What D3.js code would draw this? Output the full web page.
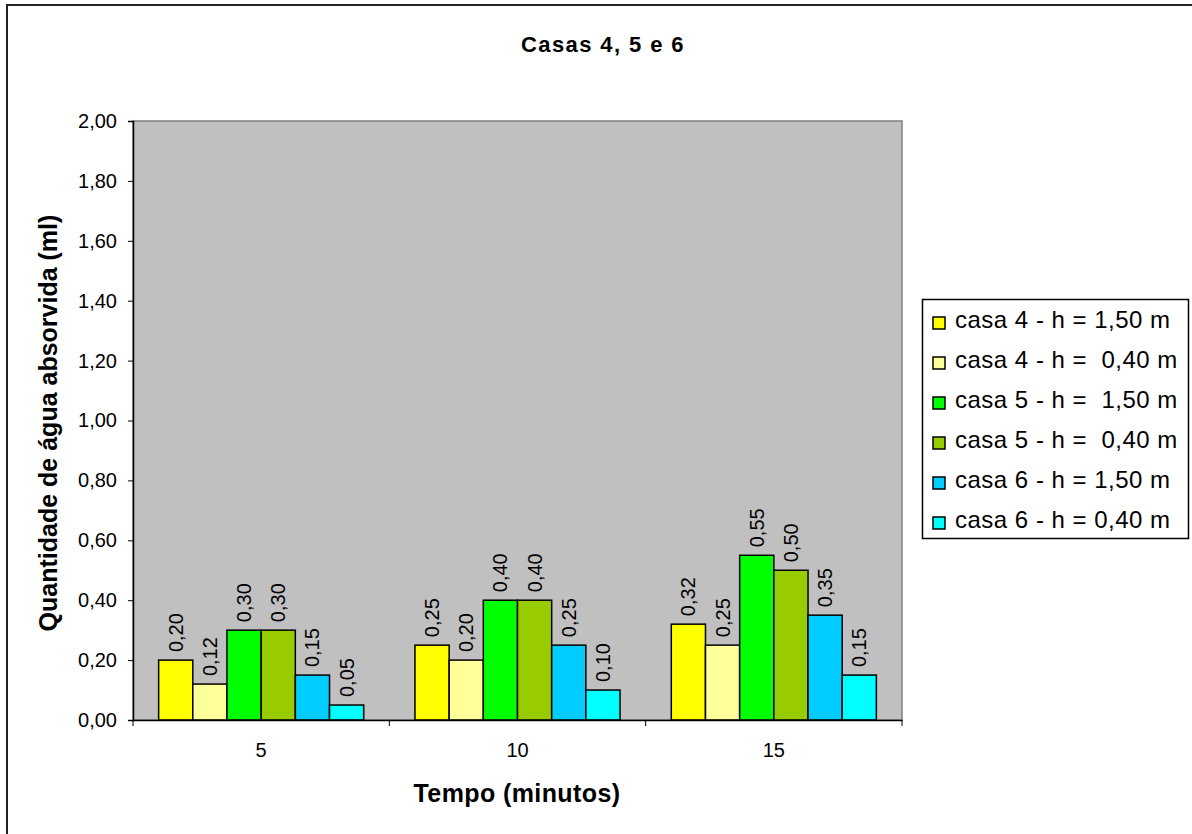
<!DOCTYPE html>
<html>
<head>
<meta charset="utf-8">
<script src="https://cdn.jsdelivr.net/npm/d3@7/dist/d3.min.js"></script>
<style>
  body { margin: 0; background: #fff; }
  text { font-family: "Liberation Sans", Arial, sans-serif; fill: #000; }
</style>
</head>
<body>
<script>
// data
var categories = ["5", "10", "15"];
var seriesNames = [
    "casa 4 - h = 1,50 m",
    "casa 4 - h =\u00a0 0,40 m",
    "casa 5 - h =\u00a0 1,50 m",
    "casa 5 - h =\u00a0 0,40 m",
    "casa 6 - h = 1,50 m",
    "casa 6 - h = 0,40 m"
];
var seriesColors = ["#FFFF00", "#FFFF99", "#00FF00", "#99CC00", "#00CCFF", "#00FFFF"];
var casa4_150 = [0.20, 0.25, 0.32];
var casa4_040 = [0.12, 0.20, 0.25];
var casa5_150 = [0.30, 0.40, 0.55];
var casa5_040 = [0.30, 0.40, 0.50];
var casa6_150 = [0.15, 0.25, 0.35];
var casa6_040 = [0.05, 0.10, 0.15];
var yTicks = [0, 0.2, 0.4, 0.6, 0.8, 1.0, 1.2, 1.4, 1.6, 1.8, 2.0];

var seriesValues = [casa4_150, casa4_040, casa5_150, casa5_040, casa6_150, casa6_040];

var W = 1192, H = 834;
var plot = { left: 133, top: 121, right: 902, bottom: 720 };
var fmt = function(d) { return d3.format(".2f")(d).replace(".", ","); };

var svg = d3.select("body").append("svg")
    .attr("width", W)
    .attr("height", H);

// outer chart border (runs off the right/bottom of the picture)
svg.append("rect")
    .attr("x", 7).attr("y", 5)
    .attr("width", W + 10).attr("height", H + 10)
    .attr("fill", "#fff")
    .attr("stroke", "#222").attr("stroke-width", 2);

//scales
var x0 = d3.scaleBand()
    .domain(categories)
    .range([plot.left, plot.right]);

var barW = x0.bandwidth() / 7.5; // 150% gap width
var x1 = d3.scaleBand()
    .domain(d3.range(seriesNames.length))
    .range([0, barW * 6]);

var y = d3.scaleLinear()
    .domain([0, 2])
    .range([plot.bottom, plot.top]);

// plot area
svg.append("rect")
    .attr("x", plot.left).attr("y", plot.top)
    .attr("width", plot.right - plot.left)
    .attr("height", plot.bottom - plot.top)
    .attr("fill", "#C0C0C0")
    .attr("stroke", "#808080").attr("stroke-width", 1.5);

// bars
var groups = svg.selectAll("g.cat")
    .data(categories)
    .enter().append("g")
    .attr("class", "cat")
    .attr("transform", function(d) {
        return "translate(" + (x0(d) + barW * 0.75) + ",0)";
    });

groups.each(function(cat, ci) {
    var g = d3.select(this);
    seriesValues.forEach(function(vals, si) {
        var v = vals[ci];
        g.append("rect")
            .attr("x", x1(si))
            .attr("y", y(v))
            .attr("width", x1.bandwidth())
            .attr("height", y(0) - y(v))
            .attr("fill", seriesColors[si])
            .attr("stroke", "#000").attr("stroke-width", 1.5);
        var lx = x1(si) + x1.bandwidth() / 2;
        var ly = y(v) - 8;
        g.append("text")
            .attr("transform", "translate(" + (lx + 7) + "," + ly + ") rotate(-90)")
            .attr("font-size", 20)
            .text(fmt(v));
    });
});

// axes
var yAxis = svg.append("g")
    .attr("transform", "translate(" + plot.left + ",0)")
    .call(d3.axisLeft(y).tickValues(yTicks).tickSize(5).tickPadding(11)
        .tickFormat(fmt));
yAxis.selectAll("text").attr("font-size", 20).attr("font-family", "Liberation Sans, Arial, sans-serif");
yAxis.select(".domain").attr("stroke", "#000").attr("stroke-width", 1.5);

var xAxis = svg.append("g")
    .attr("transform", "translate(0," + plot.bottom + ")")
    .call(d3.axisBottom(x0).tickSize(0).tickPadding(23));
xAxis.selectAll("text").attr("font-size", 20).attr("font-family", "Liberation Sans, Arial, sans-serif");
xAxis.select(".domain").attr("stroke", "#000").attr("stroke-width", 1.5);

// tick marks on the category boundaries
svg.selectAll("line.xtick")
    .data([plot.left].concat(categories.map(function(c) { return x0(c) + x0.bandwidth(); })))
    .enter().append("line")
    .attr("x1", function(d) { return d; }).attr("x2", function(d) { return d; })
    .attr("y1", plot.bottom).attr("y2", plot.bottom + 6)
    .attr("stroke", "#000");

// titles
svg.append("text")
    .attr("x", 603).attr("y", 52)
    .attr("text-anchor", "middle")
    .attr("font-size", 22).attr("font-weight", "bold")
    .attr("letter-spacing", 1.4)
    .text("Casas 4, 5 e 6");

svg.append("text")
    .attr("x", 517).attr("y", 802)
    .attr("text-anchor", "middle")
    .attr("font-size", 25).attr("font-weight", "bold")
    .attr("letter-spacing", 0.4)
    .text("Tempo (minutos)");

svg.append("text")
    .attr("transform", "translate(57,423) rotate(-90)")
    .attr("text-anchor", "middle")
    .attr("font-size", 25).attr("font-weight", "bold")
    .text("Quantidade de água absorvida (ml)");

// legend
var legend = svg.append("g").attr("transform", "translate(922,299)");
legend.append("rect")
    .attr("x", 0.5).attr("y", 0.5)
    .attr("width", 266).attr("height", 239)
    .attr("fill", "#fff")
    .attr("stroke", "#000").attr("stroke-width", 1.5);

var item = legend.selectAll("g.item")
    .data(seriesNames)
    .enter().append("g")
    .attr("class", "item")
    .attr("transform", function(d, i) { return "translate(11," + (29 + i * 40) + ")"; });

item.append("rect")
    .attr("x", 0).attr("y", -11)
    .attr("width", 12).attr("height", 12)
    .attr("fill", function(d, i) { return seriesColors[i]; })
    .attr("stroke", "#000").attr("stroke-width", 1.5);

item.append("text")
    .attr("x", 22).attr("y", 0)
    .attr("font-size", 24)
    .attr("letter-spacing", 0.5)
    .text(function(d) { return d; });
</script>
</body>
</html>
